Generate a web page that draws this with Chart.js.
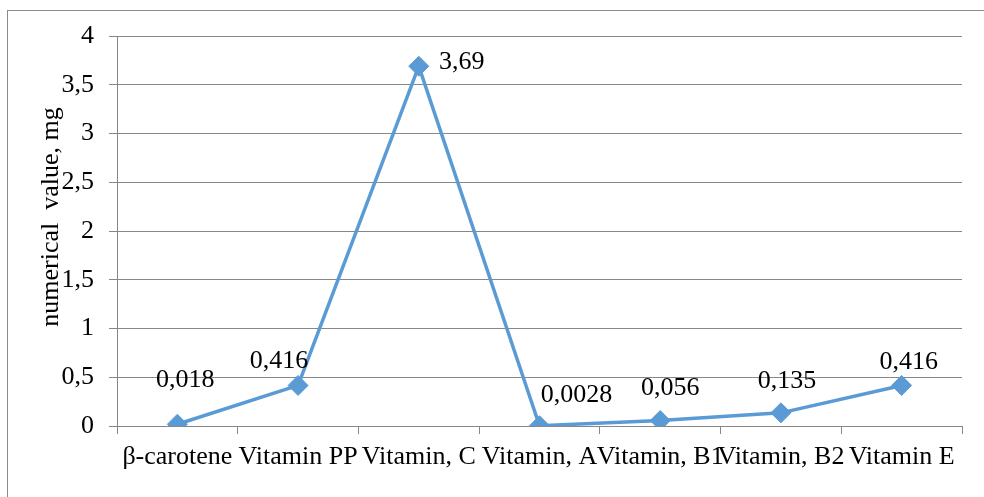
<!DOCTYPE html>
<html>
<head>
<meta charset="utf-8">
<script src="https://cdn.jsdelivr.net/npm/chart.js@4"></script>
<style>
  html, body { margin: 0; padding: 0; background: #fff; }
  #wrap { width: 984px; height: 497px; position: relative; }
</style>
</head>
<body>
<div id="wrap"><canvas id="vitChart"></canvas></div>
<script>
// data
const categories = ['β-carotene', 'Vitamin PP', 'Vitamin, C', 'Vitamin, A', 'Vitamin, B1', 'Vitamin, B2', 'Vitamin E'];
const values = [0.018, 0.416, 3.69, 0.0028, 0.056, 0.135, 0.416];
const valueLabels = ['0,018', '0,416', '3,69', '0,0028', '0,056', '0,135', '0,416'];
const yTicks = [0, 0.5, 1, 1.5, 2, 2.5, 3, 3.5, 4];
const yTitle = 'numerical  value, mg';

// label nudges (px from the marker), as in the original
const labelShift = [[8, -44], [-19, -24], [43, -4], [37, -31], [10, -32], [6, -32], [7, -23]];

const FONT = '"Liberation Serif", "Times New Roman", serif';
const FSIZE = 26;
const blue = '#5B9BD5';
const gridGray = '#878787';

const frameAndLabels = {
    id: 'frameAndLabels',
    beforeDraw(chart) {
        const ctx = chart.ctx;
        ctx.save();
        ctx.strokeStyle = '#8c8c8c';
        ctx.lineWidth = 1;
        ctx.strokeRect(7.5, 10.5, 990, 500);
        ctx.restore();
    },
    afterDraw(chart) {
        const ctx = chart.ctx;
        // axis title, overlapping tick labels like the source
        ctx.save();
        ctx.translate(51, 217);
        ctx.rotate(-Math.PI / 2);
        ctx.font = FSIZE + 'px ' + FONT;
        ctx.fillStyle = '#000';
        ctx.textAlign = 'center';
        ctx.textBaseline = 'middle';
        ctx.fillText(yTitle, 0, 0);
        ctx.restore();

        // value labels
        const meta = chart.getDatasetMeta(0);
        ctx.save();
        ctx.font = FSIZE + 'px ' + FONT;
        ctx.fillStyle = '#000';
        ctx.textAlign = 'center';
        ctx.textBaseline = 'middle';
        meta.data.forEach((pt, i) => {
            ctx.fillText(valueLabels[i], pt.x + labelShift[i][0], pt.y + labelShift[i][1]);
        });
        ctx.restore();
    }
};

const ctx = document.getElementById('vitChart').getContext('2d');
new Chart(ctx, {
    type: 'line',
    data: {
        labels: categories,
        datasets: [{
            data: values,
            borderColor: blue,
            borderWidth: 3.5,
            backgroundColor: blue,
            pointStyle: 'rectRot',
            pointRadius: 10,
            pointBorderWidth: 1,
            pointBackgroundColor: blue,
            pointBorderColor: blue,
            tension: 0,
            fill: false
        }]
    },
    options: {
        responsive: true,
        maintainAspectRatio: false,
        animation: false,
        devicePixelRatio: 1,
        layout: { padding: { top: 36, right: 22, bottom: 0, left: 0 } },
        plugins: {
            legend: { display: false },
            tooltip: { enabled: false }
        },
        scales: {
            x: {
                offset: true,
                afterFit(scale) { scale.height = 71; },
                grid: {
                    offset: true,
                    drawOnChartArea: false,
                    drawTicks: true,
                    tickLength: 8,
                    color: gridGray
                },
                border: { color: gridGray, width: 1 },
                ticks: {
                    autoSkip: false,
                    maxRotation: 0,
                    minRotation: 0,
                    padding: 8,
                    color: '#000',
                    font: { family: FONT, size: FSIZE }
                }
            },
            y: {
                min: 0,
                max: 4,
                afterFit(scale) { scale.width = 117; },
                afterBuildTicks(scale) { scale.ticks = yTicks.map(v => ({ value: v })); },
                grid: { color: gridGray, tickLength: 8, lineWidth: 1 },
                border: { color: gridGray, width: 1 },
                ticks: {
                    padding: 15,
                    color: '#000',
                    font: { family: FONT, size: FSIZE },
                    callback: v => String(v).replace('.', ',')
                }
            }
        }
    },
    plugins: [frameAndLabels]
});
</script>
</body>
</html>
